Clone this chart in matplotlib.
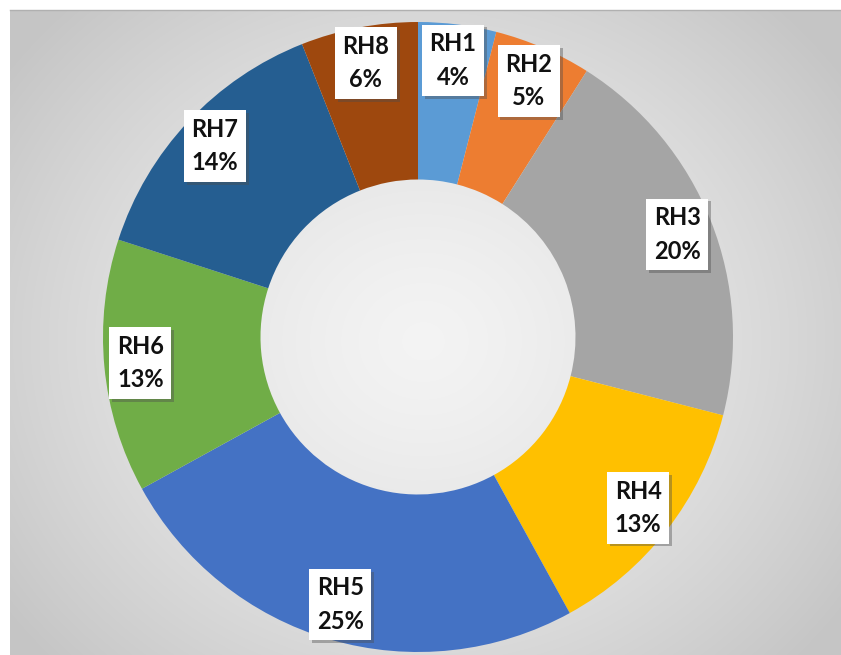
import numpy as np
import matplotlib
matplotlib.use("Agg")
import matplotlib.pyplot as plt
import matplotlib.patheffects as pe

categories = ["RH1", "RH2", "RH3", "RH4", "RH5", "RH6", "RH7", "RH8"]
values = [4, 5, 20, 13, 25, 13, 14, 6]
colors = ["#5B9BD5", "#ED7D31", "#A5A5A5", "#FFC000",
          "#4472C4", "#70AD47", "#255E91", "#9E480E"]

W, H = 841, 655
fig = plt.figure(figsize=(W / 100, H / 100), dpi=100)
fig.patch.set_facecolor("white")

# background panel with radial gradient
bg = fig.add_axes([0, 0, 1, 1])
bg.set_xlim(0, W)
bg.set_ylim(0, H)
bg.axis("off")
yy, xx = np.mgrid[0:H, 0:W]
cx, cy = 418, H - 337
d = np.sqrt(((xx - cx) / 520.0) ** 2 + ((yy - cy) / 470.0) ** 2)
d = np.clip(d, 0, 1)
val = 0.955 - 0.18 * d ** 1.4
img = np.dstack([val, val, val])
bg.imshow(img, extent=[10, W, 0, H - 10], origin="lower", zorder=0, aspect="auto")
bg.plot([10, W], [H - 10, H - 10], color="#b0b0b0", lw=1, zorder=1)

ax = fig.add_axes([0, 0, 1, 1])
ax.patch.set_alpha(0)

R = 315
wedges, _ = ax.pie(values, colors=colors, startangle=90, counterclock=False,
                   radius=R, center=(cx, cy), frame=True,
                   wedgeprops=dict(width=R * 0.5, linewidth=0))
ax.set_xlim(0, W)
ax.set_ylim(0, H)
ax.set_aspect("equal")
ax.axis("off")

total = sum(values)
cum = 0
for name, v in zip(categories, values):
    mid = (cum + v / 2) / total * 2 * np.pi
    cum += v
    r = R * 0.885
    x = cx + r * np.sin(mid)
    y = cy + r * np.cos(mid)
    t = ax.text(x, y, f"{name}\n{v}%", ha="center", va="center",
                fontsize=17, fontweight="bold", family=["Lato", "DejaVu Sans"],
                color="#111111", linespacing=1.55,
                bbox=dict(boxstyle="square,pad=0.32", fc="white", ec="none"))
    t.get_bbox_patch().set_path_effects(
        [pe.SimplePatchShadow(offset=(2, -2), alpha=0.4), pe.Normal()])

fig.savefig("out.png", dpi=100)
